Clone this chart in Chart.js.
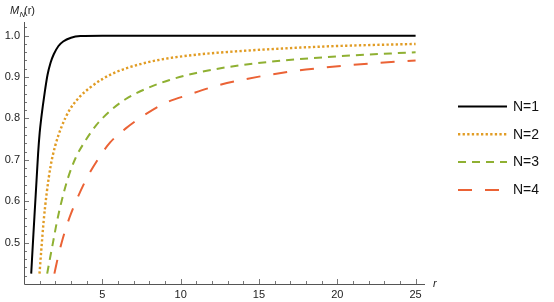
<!DOCTYPE html>
<html>
<head>
<meta charset="utf-8">
<script src="https://cdn.jsdelivr.net/npm/chart.js@4"></script>
<style>
  html, body { margin: 0; padding: 0; background: #fff; }
  #wrap { width: 554px; height: 302px; position: relative; }
</style>
</head>
<body>
<div id="wrap"><canvas id="myChart"></canvas></div>
<script>
// values
const rN1 = [0.46, 0.6, 0.7, 0.8, 0.9, 1.0, 1.1, 1.2, 1.35, 1.5, 1.7, 1.9, 2.2, 2.5, 3.0, 3.6, 5, 25];
const mN1 = [0.425, 0.52, 0.585, 0.65, 0.715, 0.765, 0.8, 0.83, 0.87, 0.905, 0.935, 0.955, 0.975, 0.986, 0.995, 0.999, 1, 1];

const rN2 = [0.99, 1.1, 1.25, 1.45, 1.7, 2.0, 2.4, 2.9, 3.5, 4.2, 5, 6, 7.5, 9, 11, 13.5, 16.5, 20, 25];
const mN2 = [0.425, 0.48, 0.55, 0.62, 0.685, 0.735, 0.78, 0.82, 0.85, 0.874, 0.895, 0.914, 0.932, 0.944, 0.954, 0.962, 0.969, 0.975, 0.98];

const rN3 = [1.48, 1.65, 1.85, 2.1, 2.4, 2.8, 3.3, 3.9, 4.6, 5.5, 6.5, 7.8, 9.3, 11, 13, 16, 20, 25];
const mN3 = [0.425, 0.46, 0.5, 0.55, 0.6, 0.655, 0.705, 0.745, 0.783, 0.818, 0.847, 0.872, 0.893, 0.91, 0.924, 0.938, 0.95, 0.96];

const rN4 = [1.94, 2.2, 2.5, 2.9, 3.4, 4.0, 4.7, 5.5, 6.5, 7.6, 9, 10.5, 12.5, 15, 18, 21.5, 25];
const mN4 = [0.425, 0.47, 0.513, 0.56, 0.607, 0.655, 0.7, 0.742, 0.776, 0.806, 0.837, 0.857, 0.881, 0.901, 0.918, 0.931, 0.94];

const seriesLabels = ['N=1', 'N=2', 'N=3', 'N=4'];
const xTicks = [5, 10, 15, 20, 25];
const yTicks = [0.5, 0.6, 0.7, 0.8, 0.9, 1.0];

const convas = document.getElementById('myChart');
const ctx = convas.getContext('2d');
const FONT = '"Liberation Sans", Arial, sans-serif';

function pts(rs, ms) {
    return rs.map((r, i) => ({ x: r, y: ms[i] }));
}

function ds(label, rs, ms, color, dash, width) {
    return {
        label: label,
        data: pts(rs, ms),
        borderColor: color,
        backgroundColor: color,
        borderWidth: width,
        borderDash: dash,
        pointRadius: 0,
        fill: false,
        cubicInterpolationMode: 'monotone'
    };
}

// axes, ticks, titles and legend drawn in Mathematica style
const decor = {
    id: 'decor',
    afterDraw(chart) {
        const c = chart.ctx;
        const xs = chart.scales.x, ys = chart.scales.y;
        const x0 = xs.getPixelForValue(0);
        const yb = ys.getPixelForValue(0.4);
        c.save();

        // minor + major ticks
        c.strokeStyle = '#777';
        c.lineWidth = 1;
        for (let v = 1; v <= 25; v++) {
            const px = Math.round(xs.getPixelForValue(v)) + 0.5;
            const len = v % 5 === 0 ? 5 : 3;
            c.beginPath(); c.moveTo(px, yb); c.lineTo(px, yb - len); c.stroke();
        }
        for (let k = 21; k <= 51; k++) {
            const v = k * 0.02;
            const py = Math.round(ys.getPixelForValue(v)) + 0.5;
            const len = k % 5 === 0 ? 5 : 3;
            c.beginPath(); c.moveTo(x0, py); c.lineTo(x0 + len, py); c.stroke();
        }

        // axis lines
        c.strokeStyle = '#555';
        c.beginPath();
        c.moveTo(Math.round(x0) + 0.5, chart.chartArea.top);
        c.lineTo(Math.round(x0) + 0.5, Math.round(yb) + 0.5);
        c.lineTo(chart.chartArea.right, Math.round(yb) + 0.5);
        c.stroke();

        // axis titles
        c.fillStyle = '#222';
        c.textBaseline = 'alphabetic';
        c.textAlign = 'left';
        c.font = 'italic 11px ' + FONT;
        c.fillText('M', 10, 14);
        c.font = 'italic 8px ' + FONT;
        c.fillText('N', 19.5, 16.5);
        c.font = '11px ' + FONT;
        c.fillText('(r)', 24, 14);
        c.font = 'italic 11px ' + FONT;
        c.fillText('r', 433, 287);

        // legend
        const lx = 458, lw = 49, ly = 106.5, step = 27.8;
        chart.data.datasets.forEach((d, i) => {
            const y = ly + i * step;
            c.strokeStyle = d.borderColor;
            c.lineWidth = d.borderWidth;
            c.setLineDash(d.borderDash);
            c.beginPath(); c.moveTo(lx, y); c.lineTo(lx + lw, y); c.stroke();
            c.setLineDash([]);
            c.fillStyle = '#111';
            c.font = '14px ' + FONT;
            c.textBaseline = 'middle';
            c.fillText(d.label, 513, y + 0.5);
        });
        c.restore();
    }
};

const chartInstance = new Chart(ctx, {
    type: 'line',
    data: {
        datasets: [
            ds(seriesLabels[0], rN1, mN1, '#000000', [], 2),
            ds(seriesLabels[1], rN2, mN2, '#E19C24', [2.3, 2.3], 2.4),
            ds(seriesLabels[2], rN3, mN3, '#8FB032', [8, 6], 2),
            ds(seriesLabels[3], rN4, mN4, '#EB6235', [14, 13], 2)
        ]
    },
    options: {
        responsive: true,
        maintainAspectRatio: false,
        animation: false,
        layout: { padding: { top: 22, right: 129, left: 0, bottom: 0 } },
        plugins: {
            legend: { display: false },
            tooltip: { enabled: false }
        },
        scales: {
            x: {
                type: 'linear',
                min: 0,
                max: 25.6,
                afterFit: s => { s.height = 18; },
                afterBuildTicks: s => { s.ticks = xTicks.map(v => ({ value: v })); },
                grid: { display: false, drawTicks: false },
                border: { display: false },
                ticks: {
                    padding: 4,
                    maxRotation: 0,
                    color: '#222',
                    font: { family: FONT, size: 11 },
                    callback: v => String(v)
                }
            },
            y: {
                type: 'linear',
                min: 0.4,
                max: 1.033,
                afterFit: s => { s.width = 24; },
                afterBuildTicks: s => { s.ticks = yTicks.map(v => ({ value: v })); },
                grid: { display: false, drawTicks: false },
                border: { display: false },
                ticks: {
                    padding: 4,
                    color: '#222',
                    font: { family: FONT, size: 11 },
                    callback: v => v.toFixed(1)
                }
            }
        }
    },
    plugins: [decor]
});
</script>
</body>
</html>
